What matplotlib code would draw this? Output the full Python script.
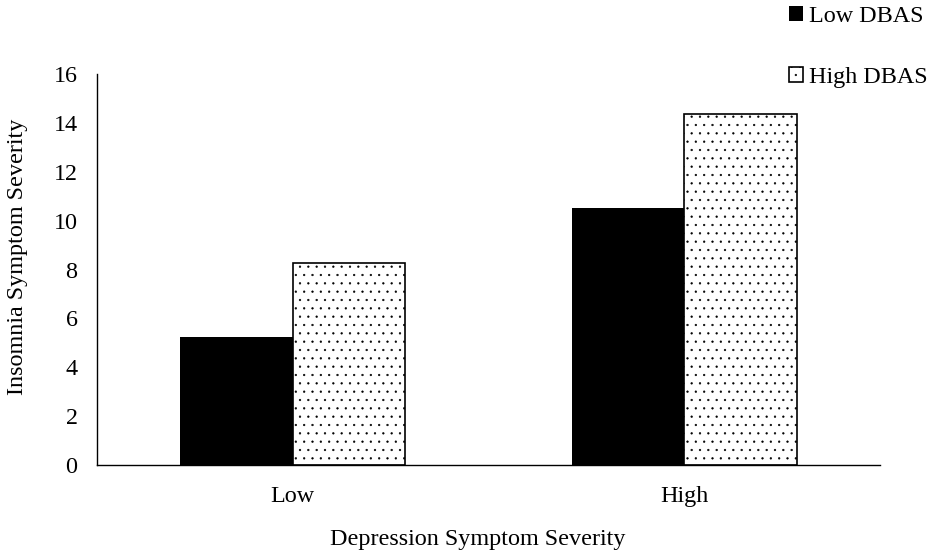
import matplotlib
matplotlib.use("Agg")
import matplotlib.pyplot as plt
import numpy as np

categories = ["Low", "High"]
series_names = ["Low DBAS", "High DBAS"]
low_dbas = [5.24, 10.50]
high_dbas = [8.27, 14.37]
yticks = [0, 2, 4, 6, 8, 10, 12, 14, 16]

plt.rcParams['font.family'] = ['Liberation Serif', 'DejaVu Serif']
plt.rcParams['hatch.linewidth'] = 0.4
FS = 17.4

fig = plt.figure(figsize=(9.35, 5.55), dpi=100)
ax = fig.add_axes([97/935, 1-465/555, 783/935, 391/555])

x = np.arange(len(categories))
w = 0.287
ax.bar(x - w/2, low_dbas, width=w, color='black', edgecolor='black', linewidth=0, label=series_names[0])
ax.bar(x + w/2, high_dbas, width=w, color='white', edgecolor='black', linewidth=1.2,
       hatch='..', label=series_names[1])

ax.set_xlim(-0.5, 1.5)
ax.set_ylim(0, 16)
ax.set_yticks(yticks)
ax.set_xticks(x)
ax.set_xticklabels(categories)
for s in ['top', 'right']:
    ax.spines[s].set_visible(False)
for s in ['left', 'bottom']:
    ax.spines[s].set_color('black')
    ax.spines[s].set_linewidth(1.0)
ax.tick_params(axis='both', length=0, labelsize=FS)
ax.tick_params(axis='y', pad=14)
ax.tick_params(axis='x', pad=15)

ax.set_xlabel("Depression Symptom Severity", fontsize=FS)
ax.xaxis.set_label_coords(0.486, -0.163)
ax.set_ylabel("Insomnia Symptom Severity", fontsize=FS, va='center')
ax.yaxis.set_label_coords(-0.102, 0.533)

fig.legend(loc='upper right', bbox_to_anchor=(928/935, 1 - 6/555), frameon=False,
           fontsize=FS, handlelength=0.6, handleheight=0.55, handletextpad=0.25,
           labelspacing=1.65, borderpad=0, borderaxespad=0)

fig.savefig("out.png", dpi=100)
